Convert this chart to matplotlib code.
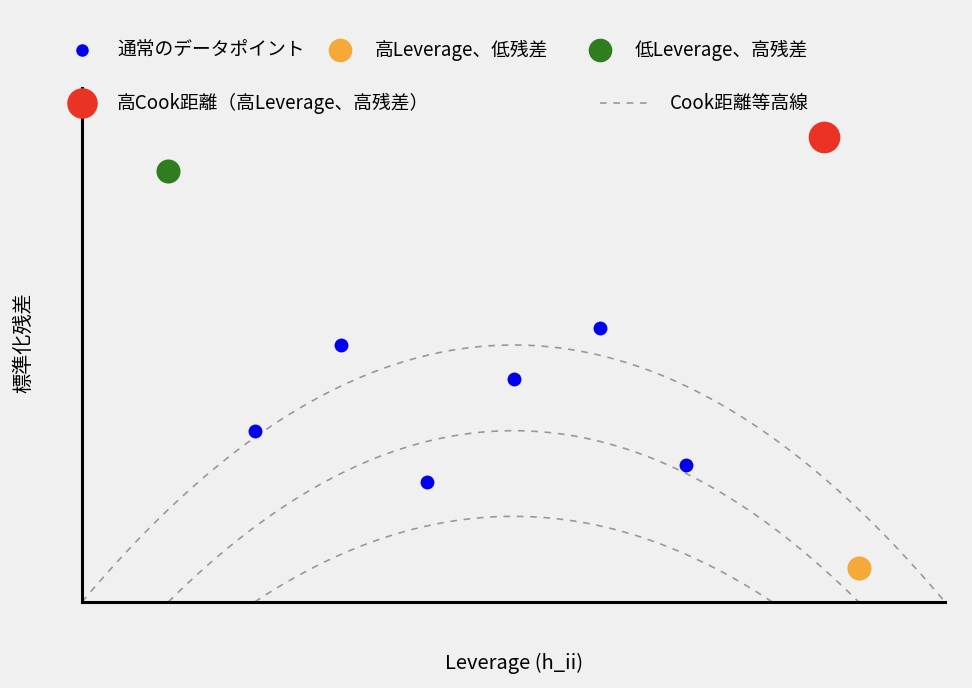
import numpy as np
import matplotlib.pyplot as plt
from matplotlib.lines import Line2D

plt.rcParams['font.family'] = ['Noto Sans CJK JP', 'DejaVu Sans']

# data
normal_x = [2, 3, 4, 5, 6, 7]
normal_y = [2.0, 3.0, 1.4, 2.6, 3.2, 1.6]
high_lev_x, high_lev_y = [9.0], [0.4]
high_res_x, high_res_y = [1.0], [5.03]
high_cook_x, high_cook_y = [8.6], [5.43]
contour_peaks = [3.0, 2.0, 1.0]
contour_halfwidths = [5.0, 4.0, 3.0]
contour_center = 5.0

bg = '#f0f0f0'
fig = plt.figure(figsize=(9.72, 6.88), dpi=100, facecolor=bg)
ax = fig.add_axes([82/972, 86/688, 863/972, 514/688], facecolor=bg)

for peak, hw in zip(contour_peaks, contour_halfwidths):
    xs = np.linspace(contour_center - hw, contour_center + hw, 200)
    ys = peak * (1 - ((xs - contour_center) / hw) ** 2)
    ax.plot(xs, ys, ls=(0, (4, 4)), color='#999999', lw=1.2)

ax.scatter(normal_x, normal_y, s=100, color='#0000ee', zorder=3, linewidths=0)
ax.scatter(high_lev_x, high_lev_y, s=300, color='#f4a938', zorder=3, linewidths=0)
ax.scatter(high_res_x, high_res_y, s=300, color='#2e7d1e', zorder=3, linewidths=0)
ax.scatter(high_cook_x, high_cook_y, s=520, color='#ea3323', zorder=3, linewidths=0)

ax.set_xlim(0, 10)
ax.set_ylim(0, 6)
ax.set_xticks([])
ax.set_yticks([])
for s in ['top', 'right']:
    ax.spines[s].set_visible(False)
for s in ['left', 'bottom']:
    ax.spines[s].set_linewidth(2.2)
    ax.spines[s].set_color('black')

fig.text(514/972, 25/688, 'Leverage (h_ii)', ha='center', va='center', fontsize=14.5)
fig.text(24/972, 345/688, '標準化残差', ha='center', va='center', rotation=90, fontsize=14.5)

# legend drawn manually
def fy(py):
    return 1 - py / 688

def fx(px):
    return px / 972

legend_items = [
    (82, 50, '#0000ee', 9, '通常のデータポイント'),
    (340, 50, '#f4a938', 17, '高Leverage、低残差'),
    (600, 50, '#2e7d1e', 17, '低Leverage、高残差'),
    (82, 103, '#ea3323', 22, '高Cook距離（高Leverage、高残差）'),
]
for px, py, c, ms, label in legend_items:
    fig.add_artist(Line2D([fx(px)], [fy(py)], marker='o', color=c, ms=ms,
                          markeredgewidth=0, transform=fig.transFigure))
    fig.text(fx(px + 35), fy(py), label, va='center', fontsize=13.5)
fig.add_artist(Line2D([fx(600), fx(650)], [fy(103), fy(103)], ls=(0, (4, 4)),
                      color='#999999', lw=1.2, transform=fig.transFigure))
fig.text(fx(670), fy(103), 'Cook距離等高線', va='center', fontsize=13.5)

fig.savefig('out.png', dpi=100, facecolor=bg)
